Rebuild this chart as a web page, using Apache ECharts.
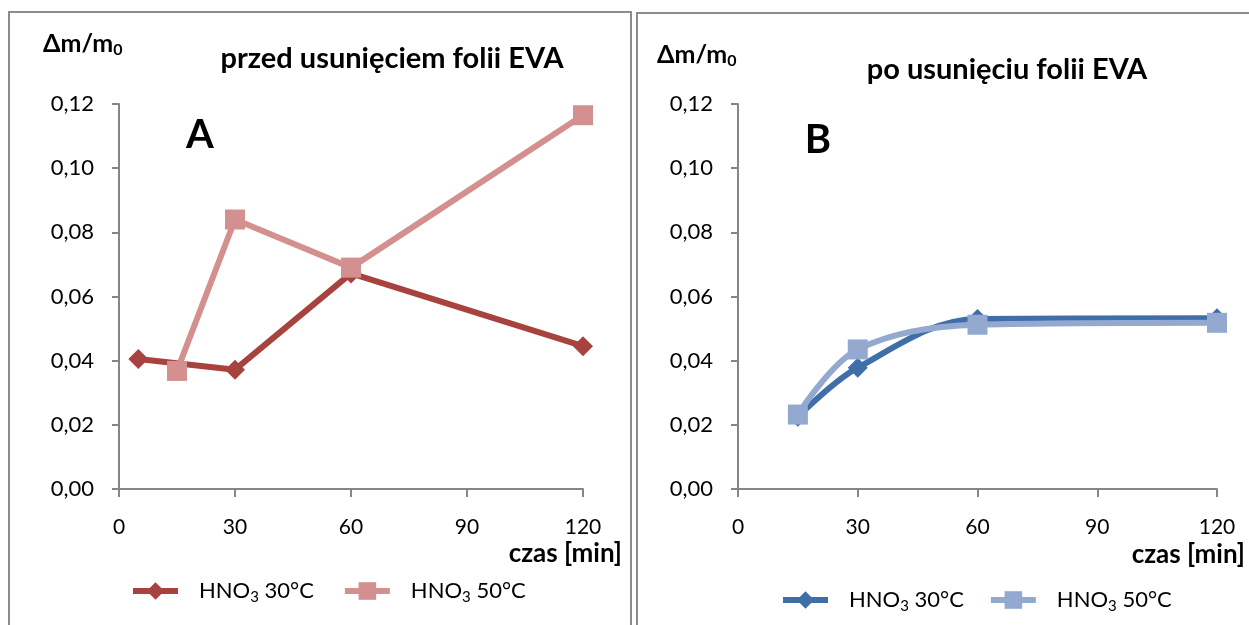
<!DOCTYPE html>
<html><head><meta charset="utf-8">
<script src="https://cdn.jsdelivr.net/npm/echarts@6/dist/echarts.min.js"></script>
<style>html,body{margin:0;padding:0;background:#fff}#c{width:1249px;height:625px}</style>
</head><body><div id="c"></div>
<script>
// Panel A: przed usunięciem folii EVA
const a30x = [5, 30, 60, 120];
const a30y = [0.0405, 0.0372, 0.0672, 0.0445];
const a50x = [15, 30, 60, 120];
const a50y = [0.0368, 0.0840, 0.0690, 0.1165];
// Panel B: po usunięciu folii EVA
const b30x = [15, 30, 60, 120];
const b30y = [0.0225, 0.0378, 0.0530, 0.0532];
const b50x = [15, 30, 60, 120];
const b50y = [0.0232, 0.0435, 0.0512, 0.0518];
const xTicks = [0, 30, 60, 90, 120];
const yTicks = [0, 0.02, 0.04, 0.06, 0.08, 0.10, 0.12];
const legendLabels = {a30: 'HNO3 30°C', a50: 'HNO3 50°C', b30: 'HNO3 30°C', b50: 'HNO3 50°C'};
const titleA = 'przed usunięciem folii EVA';
const titleB = 'po usunięciu folii EVA';

const FONT = 'Lato, "Open Sans", sans-serif';
const C = {a30: '#A8423F', a50: '#D4908E', b30: '#3F6EA8', b50: '#93A9D0'};
const zip = (xs, ys) => xs.map((x, i) => [x, ys[i]]);
const axisCol = '#868686';

function xAxis(idx) {
  return {
    type: 'value', gridIndex: idx, min: xTicks[0], max: xTicks[xTicks.length - 1], interval: 30,
    axisLine: {lineStyle: {color: axisCol, width: 2}},
    axisTick: {show: true, length: 8, lineStyle: {color: axisCol, width: 2}},
    splitLine: {show: false},
    axisLabel: {margin: 28, color: '#000', fontSize: 21, fontFamily: FONT}
  };
}
function yAxis(idx) {
  return {
    type: 'value', gridIndex: idx, min: yTicks[0], max: yTicks[yTicks.length - 1], interval: 0.02,
    axisLine: {show: true, lineStyle: {color: axisCol, width: 2}},
    axisTick: {show: true, length: 7, lineStyle: {color: axisCol, width: 2}},
    splitLine: {show: false},
    axisLabel: {margin: 25, color: '#000', fontSize: 22, fontFamily: FONT,
      formatter: v => v.toFixed(2).replace('.', ',')}
  };
}
function series(name, key, xs, ys, sym, size, idx, smooth, z) {
  return {
    name: name, type: 'line', xAxisIndex: idx, yAxisIndex: idx, data: zip(xs, ys),
    smooth: smooth, symbol: sym, symbolSize: size, z: z,
    lineStyle: {color: C[key], width: 6}, itemStyle: {color: C[key]},
    emphasis: {disabled: true}
  };
}
const legendRich = {
  n: {fontSize: 22, fontFamily: FONT, color: '#000'},
  g: {fontSize: 22, fontFamily: FONT, color: '#000', padding: [0, 0, 0, 16]},
  s: {fontSize: 15, fontFamily: FONT, color: '#000', padding: [12, 0, 0, 0]}
};
function legendFmt(name) {
  const key = name.split(':')[0];
  const t = legendLabels[key];
  const i = t.indexOf('3');
  return '{g|' + t.slice(0, i) + '}{s|3}{n|' + t.slice(i + 1) + '}';
}
const diamond = 'path://M0,-1 L1,0 L0,1 L-1,0 Z';
const dmRich = {
  b: {fontSize: 25, fontWeight: 'bold', fontFamily: FONT, fill: '#000'},
  s: {fontSize: 16, fontWeight: 'bold', fontFamily: FONT, fill: '#000', padding: [12, 0, 0, 0]}
};
function txt(x, y, text, size, align) {
  return {type: 'text', x: x, y: y, style: {text: text, font: 'bold ' + size + 'px ' + FONT, fill: '#000', align: align || 'left', verticalAlign: 'middle'}};
}
function dm(x, y) {
  return {type: 'text', x: x, y: y, style: {text: '{b|Δm/m}{s|0}', rich: dmRich, verticalAlign: 'middle'}};
}
function legend(names, left, top, gap) {
  return {data: names, left: left, top: top, padding: 0, itemWidth: 45, itemHeight: 22, itemGap: gap,
    lineStyle: {width: 6}, formatter: legendFmt, textStyle: {rich: legendRich}, selectedMode: false};
}

const option = {
  animation: false,
  backgroundColor: '#fff',
  grid: [
    {left: 119, right: 1249 - 583, top: 104, bottom: 625 - 489},
    {left: 738, right: 1249 - 1217, top: 104, bottom: 625 - 489}
  ],
  xAxis: [xAxis(0), xAxis(1)],
  yAxis: [yAxis(0), yAxis(1)],
  legend: [legend(['a30:', 'a50:'], 130, 580, 28), legend(['b30:', 'b50:'], 780, 589, 24)],
  series: [
    series('a30:', 'a30', a30x, a30y, diamond, 20, 0, false, 2),
    series('a50:', 'a50', a50x, a50y, 'rect', 20, 0, false, 3),
    series('b30:', 'b30', b30x, b30y, diamond, 20, 1, 0.35, 2),
    series('b50:', 'b50', b50x, b50y, 'rect', 20, 1, 0.35, 3)
  ],
  graphic: [
    {type: 'rect', shape: {x: 9, y: 12, width: 622, height: 640}, style: {fill: 'none', stroke: '#8c8c8c', lineWidth: 2}},
    {type: 'rect', shape: {x: 637, y: 13, width: 640, height: 640}, style: {fill: 'none', stroke: '#8c8c8c', lineWidth: 2}},
    dm(43, 44),
    dm(657, 55),
    txt(392, 59, titleA, 29, 'center'),
    txt(1007, 70, titleB, 29, 'center'),
    txt(200, 135, 'A', 40, 'center'),
    txt(818, 140, 'B', 40, 'center'),
    txt(622, 554, 'czas [min]', 26, 'right'),
    txt(1245, 555, 'czas [min]', 26, 'right')
  ]
};
const chart = echarts.init(document.getElementById('c'), null, {renderer: 'canvas'});
chart.setOption(option);
</script>
</body></html>
